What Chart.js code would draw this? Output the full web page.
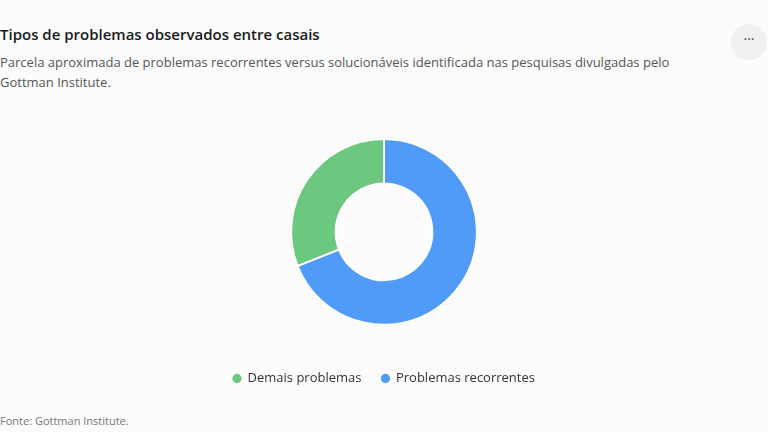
<!DOCTYPE html>
<html>
<head>
<meta charset="utf-8">
<script src="https://cdn.jsdelivr.net/npm/chart.js@4"></script>
<style>
  body { margin: 0; width: 768px; height: 432px; background: #fcfcfc; font-family: "Open Sans", "Noto Sans", sans-serif; position: relative; overflow: hidden; }
  h1 { position: absolute; left: 0; top: 24px; margin: 0; font-size: 15px; font-weight: 600; color: #1a1a1a; }
  .sub { position: absolute; left: 0; top: 52px; width: 700px; margin: 0; font-size: 13px; line-height: 20px; color: #555; }
  .menu { position: absolute; left: 731px; top: 24px; width: 36px; height: 36px; border-radius: 18px; background: #f0f0f0; color: #444; text-align: center; line-height: 30px; font-size: 14px; }
  .wrap { position: absolute; left: 0; top: 85px; width: 768px; height: 315px; }
  .foot { position: absolute; left: 0; top: 413px; font-size: 11px; color: #777; }
</style>
</head>
<body>
<h1>Tipos de problemas observados entre casais</h1>
<p class="sub">Parcela aproximada de problemas recorrentes versus solucionáveis identificada nas pesquisas divulgadas pelo Gottman Institute.</p>
<div class="menu">···</div>
<div class="wrap"><canvas id="chart"></canvas></div>
<div class="foot">Fonte: Gottman Institute.</div>
<script>
const categories = ["Demais problemas", "Problemas recorrentes"];
const values = [31, 69];
const colors = ["#6cc77f", "#519bf8"];

new Chart(document.getElementById("chart"), {
  type: "doughnut",
  data: {
    labels: categories,
    datasets: [{ data: values, backgroundColor: colors, borderColor: "#ffffff", borderWidth: 2 }]
  },
  options: {
    responsive: true,
    maintainAspectRatio: false,
    animation: false,
    cutout: "52%",
    rotation: 248.4,
    layout: { padding: { top: 53, bottom: 5 } },
    plugins: {
      tooltip: { enabled: false },
      legend: {
        position: "bottom",
        // empty title only used as a spacer between donut and legend
        title: { display: true, text: " ", font: { size: 1 }, padding: { top: 25, bottom: 0 } },
        labels: { usePointStyle: true, pointStyle: "circle", boxWidth: 8, boxHeight: 8, padding: 20, color: "#333", font: { family: "Open Sans", size: 13 } }
      }
    }
  }
});
</script>
</body>
</html>
